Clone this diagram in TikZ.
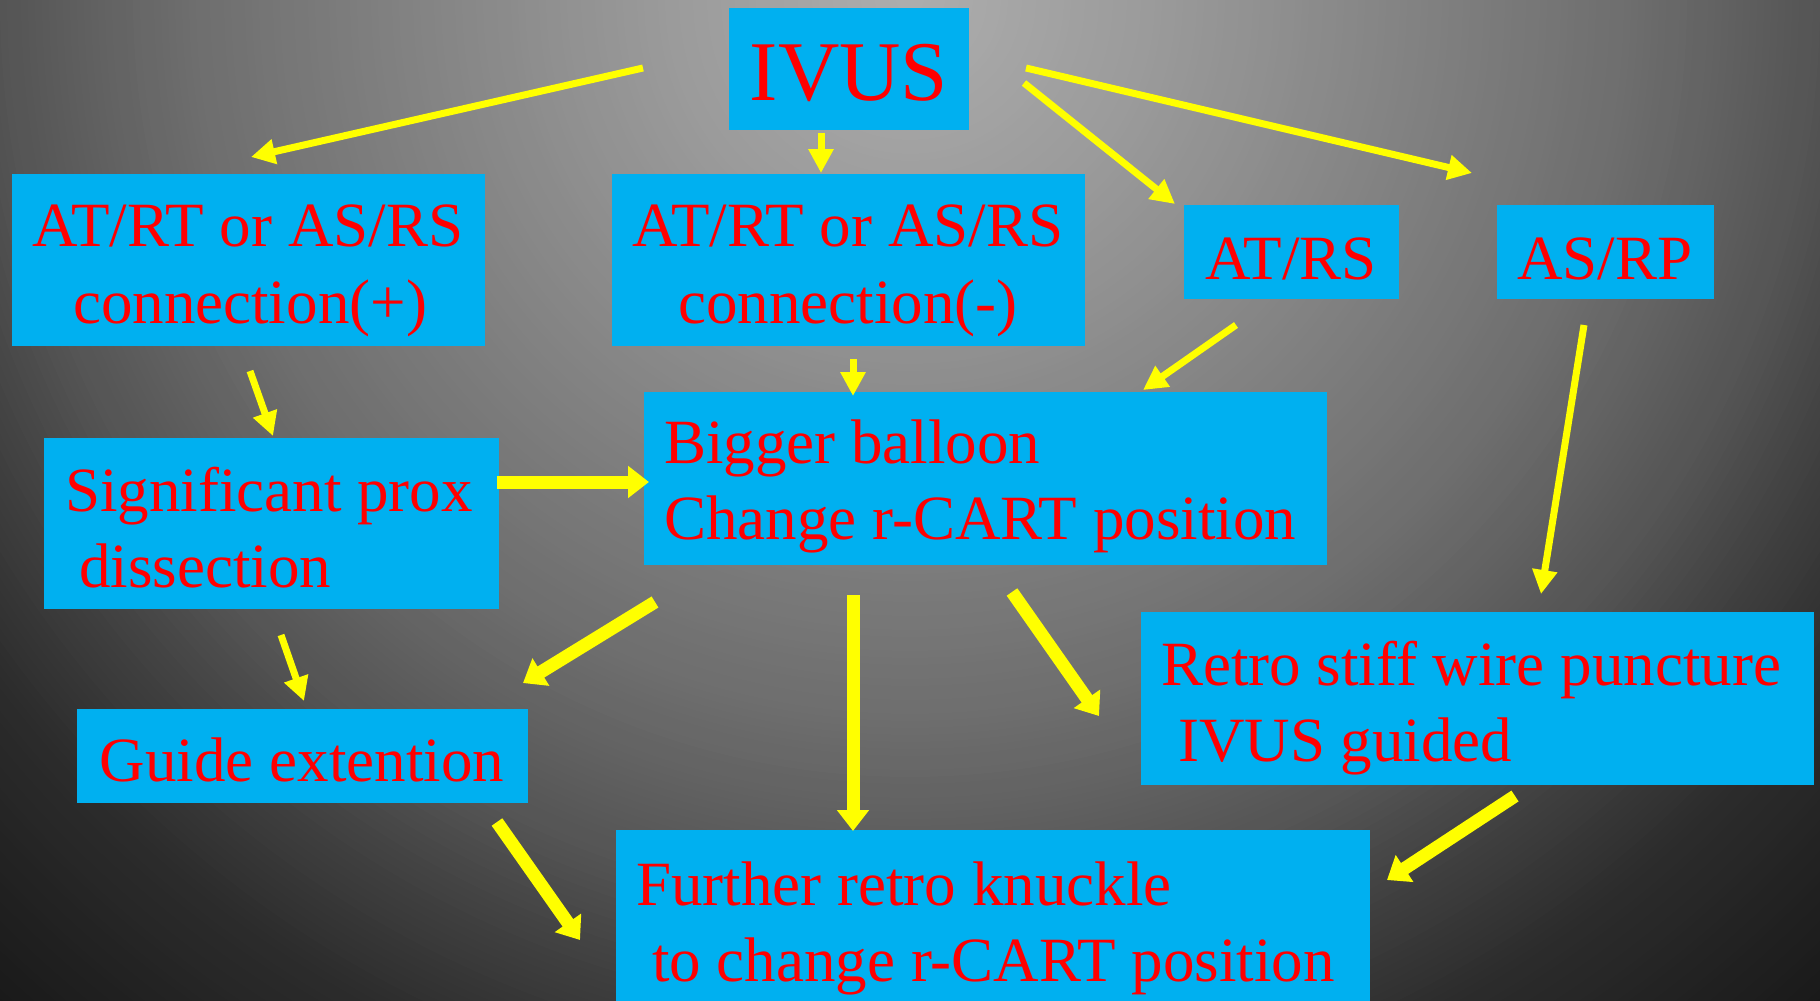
\documentclass[tikz,border=0pt]{standalone}
\usepackage{fontspec}
\setmainfont{Liberation Serif}
\usetikzlibrary{arrows.meta}

\definecolor{boxblue}{HTML}{00B0F0}
\definecolor{txtred}{HTML}{FF0000}
\definecolor{arrowyellow}{HTML}{FFFF00}

\tikzset{
  box/.style={fill=boxblue, inner sep=0pt, anchor=north west},
  lbl/.style={text=txtred, inner sep=0pt, font=\fontsize{63}{76}\selectfont},
  lblL/.style={lbl, anchor=base west},
  lblC/.style={lbl, anchor=base},
  thinarrow/.style={draw=arrowyellow, line width=7pt,
    -{Triangle[length=24pt,width=24pt]}},
  thickarrow/.style={draw=arrowyellow, line width=13pt,
    -{Triangle[length=21pt,width=31pt]}},
}

\begin{document}
\begin{tikzpicture}[x=1pt,y=-1pt]
\useasboundingbox (0,0) rectangle (1820,1001);

% grey backdrop: concentric rings, bright near the top centre, dark at the corners
\begin{scope}
  \clip (0,0) rectangle (1820,1001);
  \foreach \r in {1400,1393,...,7}{
    \pgfmathsetmacro\d{\r-3.5}
    \pgfmathsetmacro\g{max(0.09,
      \d<260 ? 0.68-0.08*\d/260 :
      (\d<720 ? 0.60-0.17*(\d-260)/460 :
      (\d<910 ? 0.43-0.10*(\d-720)/190 :
      (\d<1000 ? 0.33-0.07*(\d-910)/90 :
      (\d<1142 ? 0.26-0.09*(\d-1000)/142 :
      0.17-0.07*(\d-1142)/210)))))}
    \definecolor{ring}{gray}{\g}
    \fill[ring] (910,0) circle[radius=\r];
  }
\end{scope}

% boxes
\node[box, minimum width=240pt, minimum height=122pt] (ivus)    at (729,8) {};
\node[box, minimum width=473pt, minimum height=172pt] (conpos)  at (12,174) {};
\node[box, minimum width=473pt, minimum height=172pt] (conneg)  at (612,174) {};
\node[box, minimum width=215pt, minimum height=94pt]  (atrs)    at (1184,205) {};
\node[box, minimum width=217pt, minimum height=94pt]  (asrp)    at (1497,205) {};
\node[box, minimum width=455pt, minimum height=171pt] (prox)    at (44,438) {};
\node[box, minimum width=683pt, minimum height=173pt] (balloon) at (644,392) {};
\node[box, minimum width=451pt, minimum height=94pt]  (guide)   at (77,709) {};
\node[box, minimum width=673pt, minimum height=173pt] (retro)   at (1141,612) {};
\node[box, minimum width=754pt, minimum height=182pt] (knuckle) at (616,830) {};

% texts
\node[lblC, font=\fontsize{85}{100}\selectfont] (ivusT) at (849,100) {IVUS};
\node[lblC] (conposA) at (248,246) {AT/RT or AS/RS};
\node[lblC] (conposB) at (250,323) {connection(+)};
\node[lblC] (connegA) at (848,246) {AT/RT or AS/RS};
\node[lblC] (connegB) at (848,323) {connection(-)};
\node[lblC] (atrsT) at (1291,279) {AT/RS};
\node[lblC] (asrpT) at (1605,279) {AS/RP};
\node[lblL] (proxA) at (65,511) {Significant prox};
\node[lblL] (proxB) at (79,587) {dissection};
\node[lblL] (balloonA) at (664,463) {Bigger balloon};
\node[lblL] (balloonB) at (664,539) {Change r-CART position};
\node[lblC] (guideT) at (302,781) {Guide extention};
\node[lblL] (retroA) at (1161,685) {Retro stiff wire puncture};
\node[lblL] (retroB) at (1178,761) {IVUS guided};
\node[lblL] (knuckleA) at (636,905) {Further retro knuckle};
\node[lblL] (knuckleB) at (652,981) {to change r-CART position};

% connector end points
\coordinate (s1) at (643,68);   \coordinate (e1) at (251,157);
\coordinate (s2) at (821,133);  \coordinate (e2) at (821,173);
\coordinate (s3) at (1024,83);  \coordinate (e3) at (1175,204);
\coordinate (s4) at (1026,68);  \coordinate (e4) at (1472,173);
\coordinate (s5) at (250,371);  \coordinate (e5) at (273,436);
\coordinate (s6) at (853,359);  \coordinate (e6) at (853,396);
\coordinate (s7) at (1236,325); \coordinate (e7) at (1143,390);
\coordinate (s8) at (1584,325); \coordinate (e8) at (1541,594);
\coordinate (s9) at (281,635);  \coordinate (e9) at (304,701);
\coordinate (s10) at (497,482); \coordinate (e10) at (649,482);
\coordinate (s11) at (655,602); \coordinate (e11) at (523,683);
\coordinate (s12) at (853,595); \coordinate (e12) at (853,831);
\coordinate (s13) at (1012,592); \coordinate (e13) at (1099,716);
\coordinate (s14) at (497,822); \coordinate (e14) at (580,940);
\coordinate (s15) at (1515,796); \coordinate (e15) at (1387,880);

% thin arrows
\draw[thinarrow] (s1) -- (e1);
\draw[thinarrow] (s2) -- (e2);
\draw[thinarrow] (s3) -- (e3);
\draw[thinarrow] (s4) -- (e4);
\draw[thinarrow] (s5) -- (e5);
\draw[thinarrow] (s6) -- (e6);
\draw[thinarrow] (s7) -- (e7);
\draw[thinarrow] (s8) -- (e8);
\draw[thinarrow] (s9) -- (e9);

% thick arrows
\draw[thickarrow] (s10) -- (e10);
\draw[thickarrow] (s11) -- (e11);
\draw[thickarrow] (s12) -- (e12);
\draw[thickarrow] (s13) -- (e13);
\draw[thickarrow] (s14) -- (e14);
\draw[thickarrow] (s15) -- (e15);
\end{tikzpicture}
\end{document}
